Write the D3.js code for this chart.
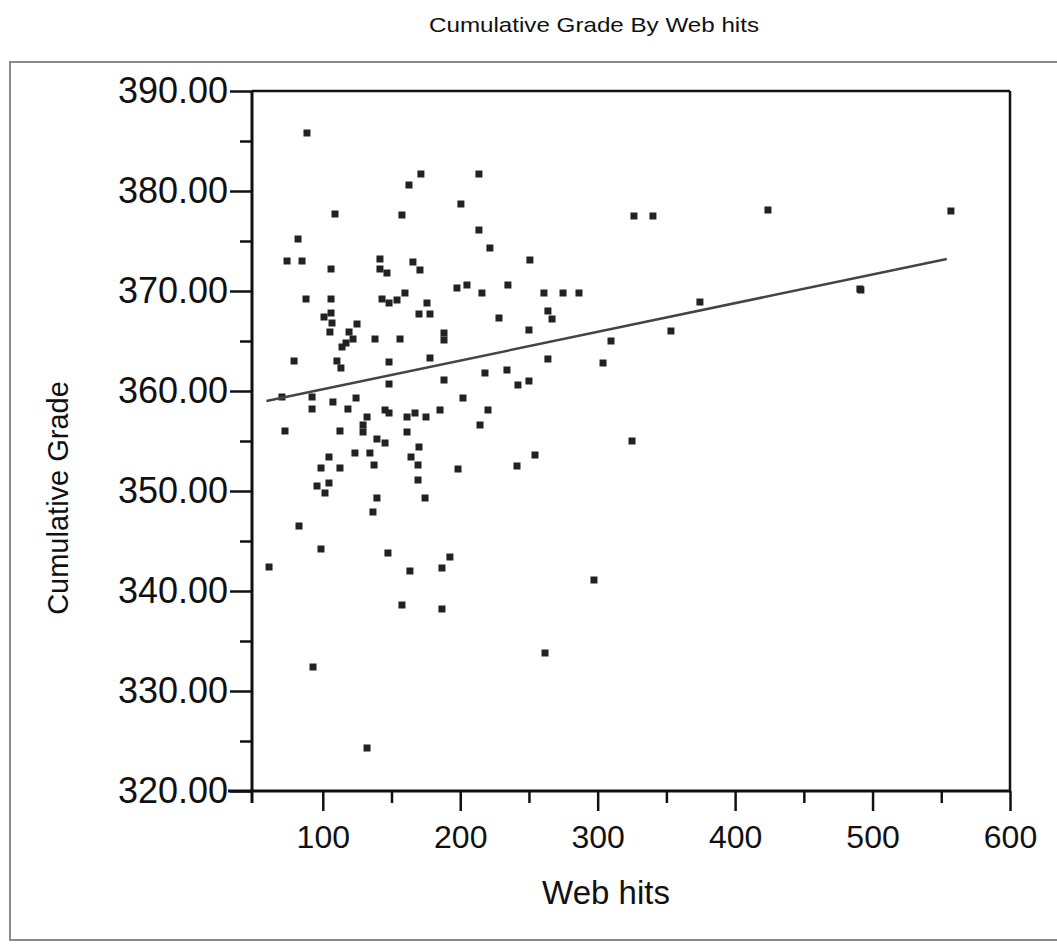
<!DOCTYPE html>
<html><head><meta charset="utf-8">
<script src="https://cdn.jsdelivr.net/npm/d3@7"></script>
<style>body{margin:0;background:#fff}svg{display:block}</style>
</head><body>
<script>
const webHits = [88.5,171.4,162.7,108.9,157.6,82.0,74.0,84.9,106.0,141.6,141.6,146.7,165.6,170.7,87.8,106.0,143.1,148.2,154.0,159.8,175.8,106.0,100.9,170.0,178.0,106.7,105.2,124.9,119.1,122.0,116.9,114.0,138.0,156.2,188.2,188.2,79.1,110.3,113.2,148.2,178.0,148.2,188.2,70.3,92.2,92.2,107.4,124.2,118.3,145.3,148.2,132.2,129.3,129.3,161.3,167.1,175.1,72.5,112.5,161.3,139.4,145.3,170.0,104.5,123.4,134.3,137.3,164.2,169.3,98.7,112.5,169.3,104.5,95.8,101.6,139.4,174.4,136.5,82.7,98.7,60.9,147.4,163.4,157.6,92.9,132.2,213.6,200.5,213.6,221.6,250.7,197.6,204.9,215.8,234.7,260.9,274.8,286.4,228.2,263.8,266.8,250.0,309.7,263.8,303.9,218.0,234.0,242.0,250.0,202.0,326.4,340.2,185.3,220.2,214.4,198.4,241.3,254.4,325.0,192.5,186.7,297.3,186.7,261.7,423.9,557.0,490.8,491.5,374.4,353.3];
const grades = [385.8,381.7,380.6,377.7,377.6,375.2,373.0,373.0,372.2,373.2,372.2,371.8,372.9,372.1,369.2,369.2,369.2,368.8,369.1,369.8,368.8,367.8,367.4,367.7,367.7,366.8,365.9,366.7,365.9,365.2,364.8,364.4,365.2,365.2,365.8,365.1,363.0,363.0,362.3,362.9,363.3,360.7,361.1,359.4,359.4,358.2,358.9,359.3,358.2,358.1,357.8,357.4,356.6,355.9,357.4,357.8,357.4,356.0,356.0,355.9,355.2,354.8,354.4,353.4,353.8,353.8,352.6,353.4,352.6,352.3,352.3,351.1,350.8,350.5,349.8,349.3,349.3,347.9,346.5,344.2,342.4,343.8,342.0,338.6,332.4,324.3,381.7,378.7,376.1,374.3,373.1,370.3,370.6,369.8,370.6,369.8,369.8,369.8,367.3,368.0,367.2,366.1,365.0,363.2,362.8,361.8,362.1,360.6,361.0,359.3,377.5,377.5,358.1,358.1,356.6,352.2,352.5,353.6,355.0,343.4,342.3,341.1,338.2,333.8,378.1,378.0,370.2,370.1,368.9,366.0];
const fitX = [59, 554];
const fitY = [359.0, 373.2];
const xMajorTicks = [100,200,300,400,500,600];
const xMinorTicks = [150,250,350,450,550];
const yMajorTicks = [320,330,340,350,360,370,380,390];
const yMinorTicks = [325,335,345,355,365,375,385];
const titleText = "Cumulative Grade By Web hits";
const xTitle = "Web hits";
const yTitle = "Cumulative Grade";

const W = 1057, H = 947;
const L = 252, R = 1010, T = 91, B = 791;
const svg = d3.select("body").append("svg").attr("width", W).attr("height", H);
const font = "'Liberation Sans', Arial, sans-serif";

const x = d3.scaleLinear().domain([48.5, 600]).range([L, R]);
const y = d3.scaleLinear().domain([320, 390]).range([B, T]);

// outer frame
svg.append("rect").attr("x", 10).attr("y", 62).attr("width", W + 20).attr("height", 878)
  .attr("fill", "none").attr("stroke", "#8a8a8a").attr("stroke-width", 2);

svg.append("text").attr("x", 594).attr("y", 32).attr("text-anchor", "middle")
  .attr("font-family", font).attr("font-size", 21).attr("fill", "#111")
  .attr("textLength", 330).attr("lengthAdjust", "spacingAndGlyphs").text(titleText);

// plot box top and right
svg.append("line").attr("x1", L).attr("x2", R).attr("y1", T).attr("y2", T).attr("stroke", "#111").attr("stroke-width", 2.5);
svg.append("line").attr("x1", R).attr("x2", R).attr("y1", T).attr("y2", B).attr("stroke", "#111").attr("stroke-width", 2.5);

// axes
const yAxis = d3.axisLeft(y).tickValues(yMajorTicks).tickFormat(d3.format(".2f")).tickSize(22).tickPadding(2);
const gy = svg.append("g").attr("transform", `translate(${L},0)`).call(yAxis);
gy.select(".domain").remove();
gy.selectAll(".tick line").attr("stroke", "#111").attr("stroke-width", 2.5);
gy.selectAll(".tick text").attr("font-family", font).attr("font-size", 36).attr("fill", "#111");
const yMinor = d3.axisLeft(y).tickValues(yMinorTicks).tickFormat("").tickSize(12);
const gym = svg.append("g").attr("transform", `translate(${L},0)`).call(yMinor);
gym.select(".domain").remove();
gym.selectAll(".tick line").attr("stroke", "#111").attr("stroke-width", 2.5);

const xAxis = d3.axisBottom(x).tickValues(xMajorTicks).tickFormat(d3.format("d")).tickSize(20).tickPadding(14);
const gx = svg.append("g").attr("transform", `translate(0,${B})`).call(xAxis);
gx.select(".domain").remove();
gx.selectAll(".tick line").attr("stroke", "#111").attr("stroke-width", 2.5);
gx.selectAll(".tick text").attr("font-family", font).attr("font-size", 32).attr("fill", "#111");
const xMinor = d3.axisBottom(x).tickValues(xMinorTicks).tickFormat("").tickSize(12);
const gxm = svg.append("g").attr("transform", `translate(0,${B})`).call(xMinor);
gxm.select(".domain").remove();
gxm.selectAll(".tick line").attr("stroke", "#111").attr("stroke-width", 2.5);

svg.append("line").attr("x1", L).attr("x2", L).attr("y1", T).attr("y2", B + 12).attr("stroke", "#111").attr("stroke-width", 3);
svg.append("line").attr("x1", L - 24).attr("x2", R).attr("y1", B).attr("y2", B).attr("stroke", "#111").attr("stroke-width", 3);

// titles
svg.append("text").attr("x", 606).attr("y", 904).attr("text-anchor", "middle")
  .attr("font-family", font).attr("font-size", 33).attr("fill", "#111").text(xTitle);
svg.append("text").attr("transform", "translate(68,498) rotate(-90)").attr("text-anchor", "middle")
  .attr("font-family", font).attr("font-size", 29).attr("fill", "#111").text(yTitle);

// points
const pts = webHits.map((d, i) => [d, grades[i]]);
const s = 7;
svg.append("g").selectAll("rect").data(pts).join("rect")
  .attr("x", d => x(d[0]) - s / 2).attr("y", d => y(d[1]) - s / 2)
  .attr("width", s).attr("height", s).attr("fill", "#222");

// fit line
svg.append("line").attr("x1", x(fitX[0])).attr("y1", y(fitY[0])).attr("x2", x(fitX[1])).attr("y2", y(fitY[1]))
  .attr("stroke", "#444").attr("stroke-width", 2.5);
</script>
</body></html>
